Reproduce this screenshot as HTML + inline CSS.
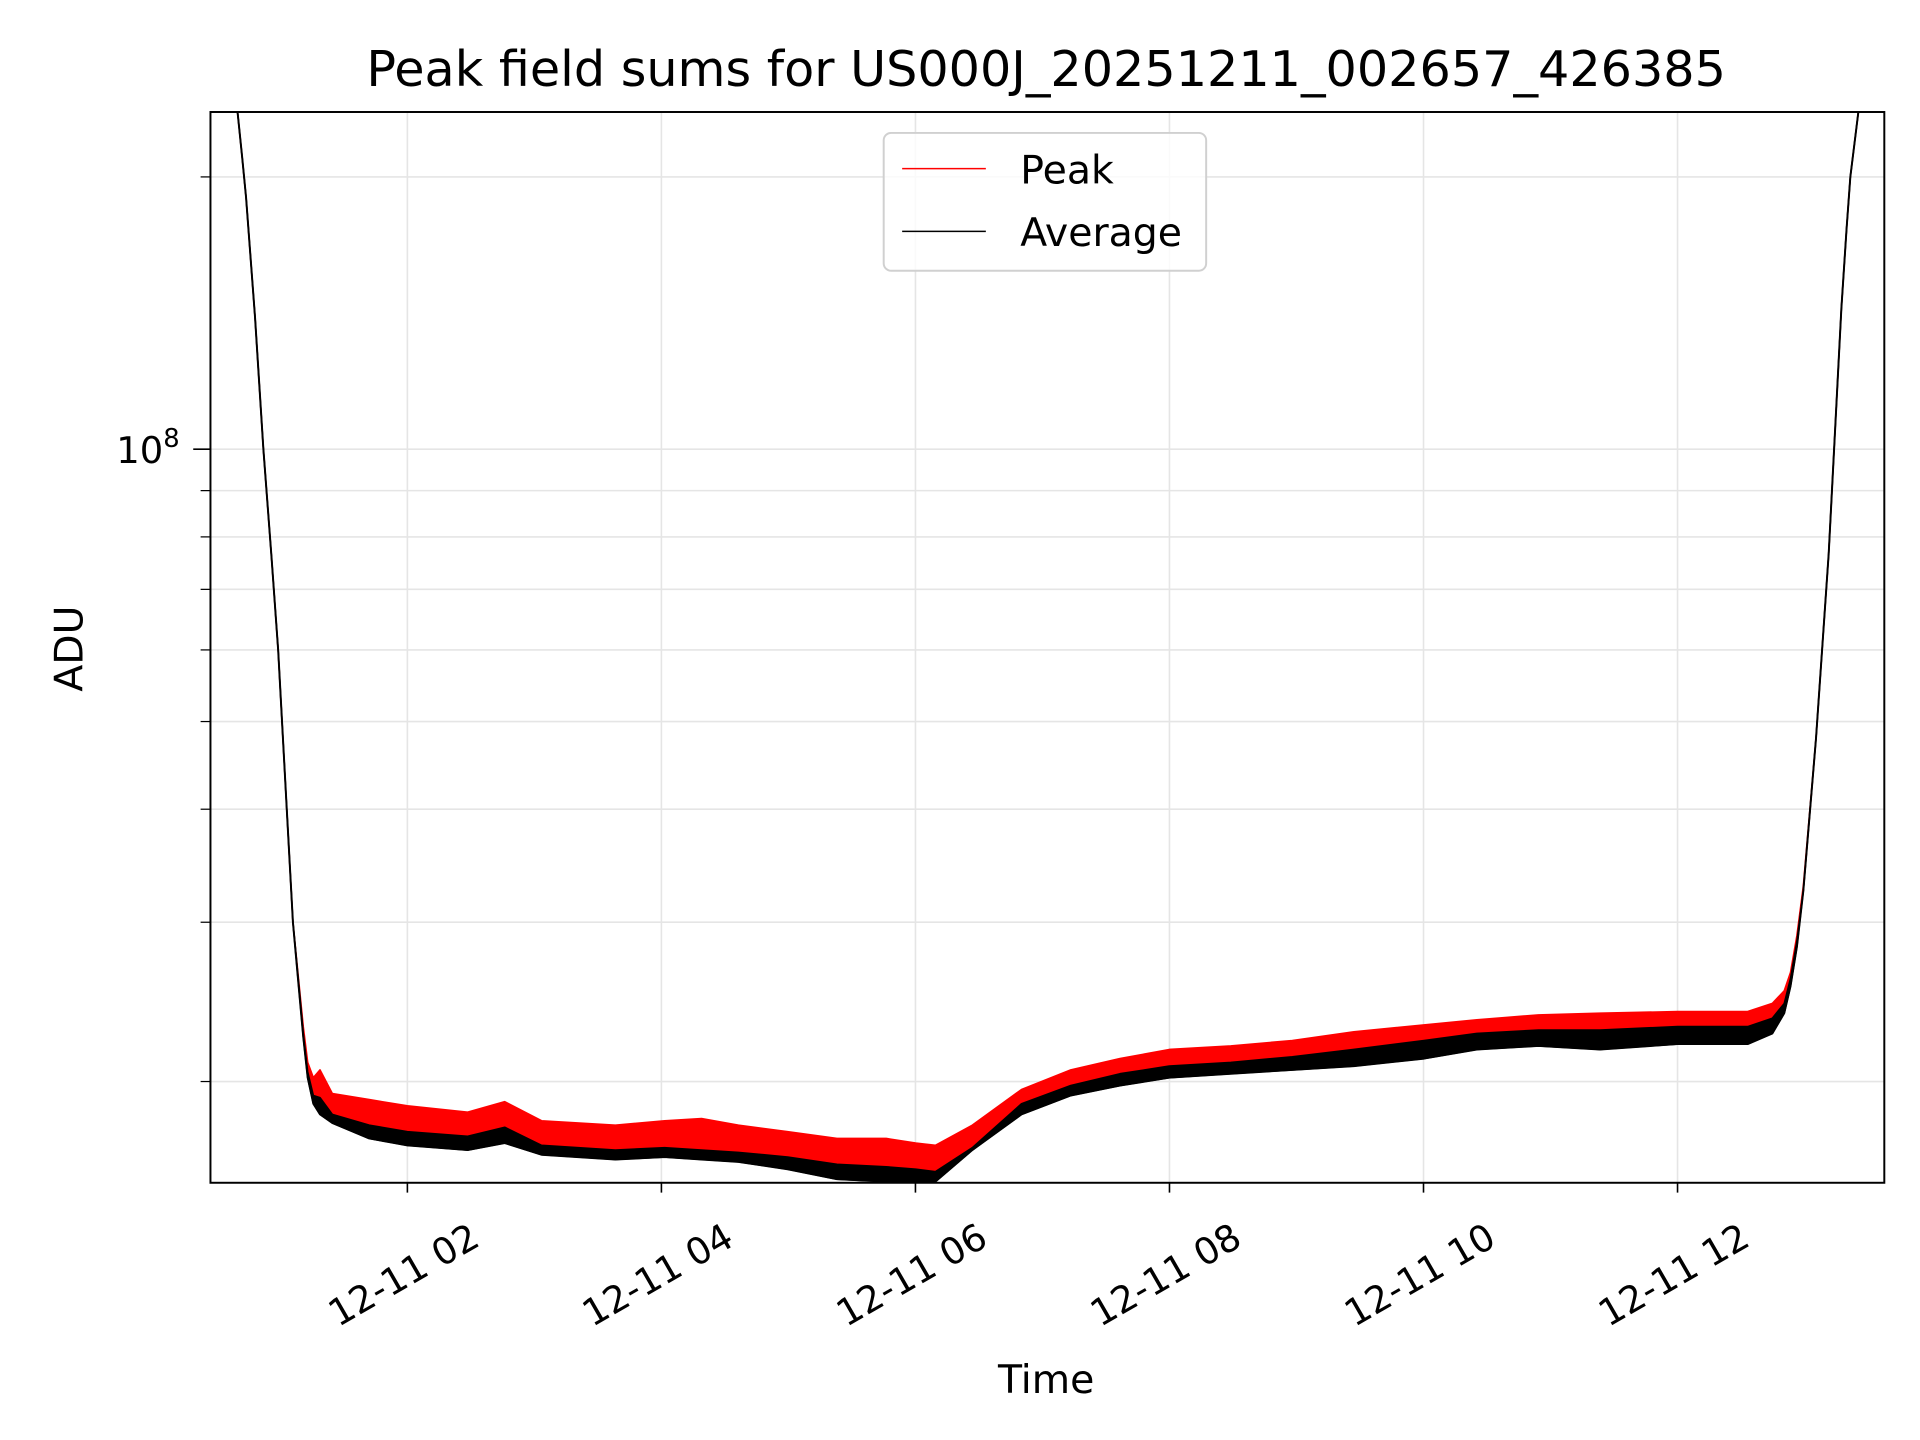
<!DOCTYPE html>
<html><head><meta charset="utf-8"><style>
html,body{margin:0;padding:0;background:#fff;}
svg{display:block;}
text{font-family:"DejaVu Sans","Liberation Sans",sans-serif;fill:#000;}
</style></head><body>
<svg id="chart" width="1920" height="1440" viewBox="0 0 1560 1170" xmlns="http://www.w3.org/2000/svg">
<rect x="0" y="0" width="1560" height="1170" fill="#fff"/>
<defs><clipPath id="plotclip"><rect x="171" y="91" width="1360" height="870"/></clipPath></defs>
<g id="grid"></g>
<g id="series" clip-path="url(#plotclip)"></g>
<rect x="171" y="91" width="1360" height="870" fill="none" stroke="#000" stroke-width="1.6"/>
<g id="axes"></g>
<text x="850" y="70" font-size="40" text-anchor="middle">Peak field sums for US000J_20251211_002657_426385</text>
<text x="850" y="1132" font-size="32" text-anchor="middle">Time</text>
<text x="0" y="0" font-size="32" text-anchor="middle" transform="translate(67,527) rotate(-90)">ADU</text>
<g>
<rect x="718" y="108" width="262" height="112" rx="6" fill="#fff" fill-opacity="0.8" stroke="#d0d0d0" stroke-width="1.6"/>
<line x1="733" y1="137" x2="801" y2="137" stroke="#ff0000" stroke-width="1.3"/>
<text x="829" y="149" font-size="32">Peak</text>
<line x1="733" y1="188" x2="801" y2="188" stroke="#000" stroke-width="1.3"/>
<text x="829" y="200" font-size="32">Average</text>
</g>
</svg>
<script>
// Data: time in hours (12-11), values in millions of ADU
const hours = [0.45,0.585,0.63,0.663,0.70,0.73,0.80,0.866,0.93,0.983,1.05,1.099,1.147,1.18,1.215,1.26,1.312,1.409,1.70,2.0,2.475,2.766,3.056,3.638,4.025,4.316,4.607,4.994,5.382,5.770,6.002,6.157,6.448,6.835,7.223,7.610,7.998,8.483,8.967,9.452,10.004,10.42,10.905,11.39,12.0,12.552,12.746,12.84,12.89,12.94,12.99,13.09,13.19,13.29,13.33,13.36,13.43,13.55];
const peakValues = [400,300,260,236,210,190,140,100,76,60,40,30,25.6,23.0,21.0,20.2,20.6,19.4,19.1,18.8,18.5,19.0,18.1,17.9,18.1,18.2,17.9,17.6,17.3,17.3,17.1,17.0,17.9,19.6,20.6,21.2,21.7,21.9,22.2,22.7,23.1,23.4,23.7,23.8,23.9,23.9,24.4,25.2,26.4,29.0,32.9,47.9,76.6,143,175,200,240,350];
const averageHigh = [400,300,260,236,210,190,140,100,76,60,40,30,25.4,22.6,20.5,19.3,19.2,18.4,17.9,17.6,17.4,17.8,17.0,16.8,16.9,16.8,16.7,16.5,16.2,16.1,16.0,15.9,16.9,18.9,19.8,20.4,20.8,21.0,21.3,21.7,22.2,22.6,22.8,22.8,23.0,23.0,23.5,24.4,26.0,28.6,32.5,47.9,76.6,143,175,200,240,350];
const averageLow = [400,300,260,236,210,190,140,100,76,60,40,30,25.2,22.4,20.2,18.9,18.4,18.0,17.3,17.0,16.8,17.1,16.6,16.4,16.5,16.4,16.3,16.0,15.6,15.5,15.4,15.5,16.8,18.4,19.3,19.8,20.2,20.4,20.6,20.8,21.2,21.7,21.9,21.7,22.0,22.0,22.6,23.8,25.5,28.2,32.5,47.9,76.6,143,175,200,240,350];
const xTickHours = [2,4,6,8,10,12];
const xTickLabels = ["12-11 02","12-11 04","12-11 06","12-11 08","12-11 10","12-11 12"];
const yMinorValues = [20,30,40,50,60,70,80,90,200];
const yMajorValues = [100];

const NS = "http://www.w3.org/2000/svg";
function xs(h){ return 331 + (h - 2) * 103.2; }
function ys(vM){ return 365 - 735 * Math.log10(vM / 100); }
function mk(tag, attrs, parent){ const e = document.createElementNS(NS, tag); for (const k in attrs) e.setAttribute(k, attrs[k]); parent.appendChild(e); return e; }

const grid = document.getElementById('grid');
const axes = document.getElementById('axes');
const series = document.getElementById('series');

xTickHours.forEach((h, i) => {
  const x = xs(h);
  const g = mk('line', {x1:x, y1:91, x2:x, y2:961, stroke:'#e5e5e5', 'stroke-width':1.3}, grid);
  
  
  const t = mk('line', {x1:x, y1:961, x2:x, y2:969, stroke:'#000', 'stroke-width':1.3}, axes);
  
  
  const lbl = mk('text', {x:0, y:0, 'font-size':30, 'text-anchor':'middle', 'dominant-baseline':'central', transform:'translate(' + (x - 3) + ',1036) rotate(-30)'}, axes);
  lbl.textContent = xTickLabels[i];
  
  
});

yMinorValues.concat(yMajorValues).forEach(v => {
  const y = ys(v);
  const g = mk('line', {x1:171, y1:y, x2:1531, y2:y, stroke:'#e5e5e5', 'stroke-width':1.3}, grid);
  
  
  const major = yMajorValues.indexOf(v) >= 0;
  const t = mk('line', {x1:major ? 157 : 163, y1:y, x2:171, y2:y, stroke:'#000', 'stroke-width':major ? 1.3 : 1}, axes);
  
  
});
const yl = mk('text', {x:146, y:ys(100) + 11, 'font-size':30, 'text-anchor':'end'}, axes);
yl.innerHTML = '10<tspan font-size="21" dy="-13">8</tspan>';



function band(top, bot){
  let d = '';
  hours.forEach((h, i) => { d += (i ? 'L' : 'M') + xs(h).toFixed(1) + ',' + ys(top[i]).toFixed(1); });
  for (let i = hours.length - 1; i >= 0; i--) d += 'L' + xs(hours[i]).toFixed(1) + ',' + ys(bot[i]).toFixed(1);
  return d + 'Z';
}
function line(vals){
  let d = '';
  hours.forEach((h, i) => { d += (i ? 'L' : 'M') + xs(h).toFixed(1) + ',' + ys(vals[i]).toFixed(1); });
  return d;
}
const redBand = mk('path', {d:band(peakValues, averageHigh), fill:'#ff0000', stroke:'#ff0000', 'stroke-width':1.3, 'stroke-linejoin':'round'}, series);


const blackBand = mk('path', {d:band(averageHigh, averageLow), fill:'#000', stroke:'#000', 'stroke-width':1.3, 'stroke-linejoin':'round'}, series);


const avgLine = mk('path', {d:line(averageLow), fill:'none', stroke:'#000', 'stroke-width':1.6, 'stroke-linejoin':'round'}, series);


</script>
</body></html>
